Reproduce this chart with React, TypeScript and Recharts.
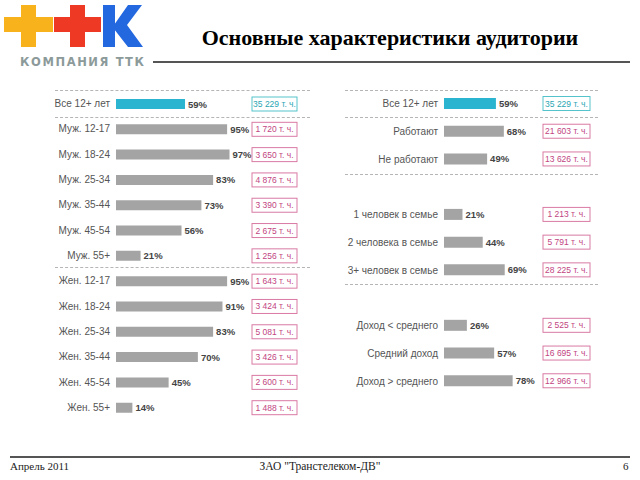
import { BarChart, Bar, XAxis, YAxis, Cell, LabelList } from 'recharts'

const leftNames = ['Все 12+ лет', 'Муж. 12-17', 'Муж. 18-24', 'Муж. 25-34', 'Муж. 35-44', 'Муж. 45-54', 'Муж. 55+',
  'Жен. 12-17', 'Жен. 18-24', 'Жен. 25-34', 'Жен. 35-44', 'Жен. 45-54', 'Жен. 55+']
const leftPct = [59, 95, 97, 83, 73, 56, 21, 95, 91, 83, 70, 45, 14]
const leftAudience = ['35 229 т. ч.', '1 720 т. ч.', '3 650 т. ч.', '4 876 т. ч.', '3 390 т. ч.', '2 675 т. ч.', '1 256 т. ч.',
  '1 643 т. ч.', '3 424 т. ч.', '5 081 т. ч.', '3 426 т. ч.', '2 600 т. ч.', '1 488 т. ч.']

// empty strings are spacer rows between groups
const rightNames = ['Все 12+ лет', 'Работают', 'Не работают', '', '1 человек в семье', '2 человека в семье', '3+ человек в семье',
  '', 'Доход < среднего', 'Средний доход', 'Доход > среднего']
const rightPct = [59, 68, 49, null, 21, 44, 69, null, 26, 57, 78]
const rightAudience = ['35 229 т. ч.', '21 603 т. ч.', '13 626 т. ч.', '', '1 213 т. ч.', '5 791 т. ч.', '28 225 т. ч.',
  '', '2 525 т. ч.', '16 695 т. ч.', '12 966 т. ч.']

const SANS = '"Liberation Sans", Arial, sans-serif'
const SERIF = '"Liberation Serif", "Times New Roman", serif'
const CYAN = '#2ab4cf'
const GREY = '#a4a4a4'

const build = (names: string[], pct: (number | null)[], aud: string[]) =>
  names.map((n, i) => ({ key: String(i), name: n, pct: pct[i], aud: aud[i] }))

const leftData = build(leftNames, leftPct, leftAudience)
const rightData = build(rightNames, rightPct, rightAudience)

function pctLabel(props: any) {
  const { x, y, width, height, value } = props
  if (value == null) return null
  return (
    <text x={x + width + 3} y={y + height / 2 + 3.5} fontSize={9.5} fontWeight="bold" fill="#444" fontFamily={SANS}>
      {value}%
    </text>
  )
}

function boxLabel(offset: number, w: number) {
  return (props: any) => {
    const { x, y, height, value, index } = props
    if (!value) return null
    const first = index === 0
    const cy = y + height / 2
    return (
      <g>
        <rect x={x + offset} y={cy - 7} width={w} height={14} fill="#fff"
          stroke={first ? '#55c3cc' : '#d97aa4'} strokeWidth={1} />
        <text x={x + offset + w / 2} y={cy + 3} textAnchor="middle" fontSize={8.5} fill={first ? '#2aa6b3' : '#c2457f'}
          fontFamily={SANS}>{value}</text>
      </g>
    )
  }
}

function nameTick(names: string[]) {
  return (props: any) => {
    const { x, y, payload } = props
    return (
      <text x={x} y={y + 3.5} textAnchor="end" fontSize={10} fill="#555" fontFamily={SANS}>
        {names[Number(payload.value)]}
      </text>
    )
  }
}

function Dash({ x1, x2, y }: { x1: number; x2: number; y: number }) {
  return <div style={{ position: 'absolute', left: x1, top: y, width: x2 - x1, borderTop: '1px dashed #b5b5b5' }} />
}

function Panel({ data, names, left, width, axisW, rightM, top, bottom, barSize, boxOff, boxW }: any) {
  return (
    <div style={{ position: 'absolute', left, top: 0 }}>
      <BarChart width={width} height={480} data={data} layout="vertical"
        margin={{ top, right: rightM, bottom, left: 0 }} barCategoryGap={0}>
        <XAxis type="number" domain={[0, 100]} hide />
        <YAxis type="category" dataKey="key" width={axisW} axisLine={false} tickLine={false} tickSize={0} tickMargin={6}
          interval={0} tick={nameTick(names)} />
        <Bar dataKey="pct" barSize={barSize} isAnimationActive={false}>
          {data.map((_: any, i: number) => <Cell key={i} fill={i === 0 ? CYAN : GREY} />)}
          <LabelList dataKey="pct" content={pctLabel} />
          <LabelList dataKey="aud" content={boxLabel(boxOff, boxW)} />
        </Bar>
      </BarChart>
    </div>
  )
}

export default function App() {
  return (
    <div style={{ position: 'absolute', left: 0, top: 0, width: 640, height: 480, background: '#fff', overflow: 'hidden' }}>
      {/* logo */}
      <svg style={{ position: 'absolute', left: 0, top: 0 }} width={150} height={72}>
        <rect x={4} y={17} width={49} height={15} fill="#f7b21c" />
        <rect x={21} y={5} width={15} height={42} fill="#f7b21c" />
        <rect x={54} y={17} width={47} height={15} fill="#ee3a24" />
        <rect x={70} y={5} width={15} height={42} fill="#ee3a24" />
        <rect x={103} y={5} width={12} height={42} fill="#2468e0" />
        <polygon points="114,25 128,5 142,5 127,25 143,47 128,47 114,29" fill="#2468e0" />
        <text x={20} y={66} fontFamily='"DejaVu Sans", sans-serif' fontWeight="bold" fontSize={11.5} letterSpacing={1.6}
          fill="#8c9a9a">КОМПАНИЯ ТТК</text>
      </svg>

      {/* title */}
      <div style={{ position: 'absolute', left: 150, width: 480, top: 25, textAlign: 'center', fontFamily: SERIF,
        fontWeight: 'bold', fontSize: 22, color: '#000' }}>Основные характеристики аудитории</div>
      <div style={{ position: 'absolute', left: 153, top: 61, width: 477, height: 2, background: '#555' }} />

      <Panel data={leftData} names={leftNames} left={0} width={320} axisW={116} rightM={87} top={91} bottom={60}
        barSize={10} boxOff={136} boxW={45} />
      <Panel data={rightData} names={rightNames} left={330} width={270} axisW={114} rightM={68} top={90} bottom={85}
        barSize={11} boxOff={99} boxW={47} />

      <Dash x1={55} x2={310} y={90} />
      <Dash x1={55} x2={310} y={117} />
      <Dash x1={55} x2={310} y={267} />
      <Dash x1={345} x2={598} y={90} />
      <Dash x1={345} x2={598} y={117} />
      <Dash x1={345} x2={598} y={174} />
      <Dash x1={345} x2={598} y={284} />

      {/* footer */}
      <div style={{ position: 'absolute', left: 10, top: 456, width: 620, height: 2, background: '#555' }} />
      <div style={{ position: 'absolute', left: 10, top: 460, fontFamily: SERIF, fontSize: 11, color: '#222' }}>Апрель 2011</div>
      <div style={{ position: 'absolute', left: 0, width: 640, top: 460, textAlign: 'center', fontFamily: SERIF, fontSize: 11.5,
        color: '#222' }}>ЗАО "Транстелеком-ДВ"</div>
      <div style={{ position: 'absolute', left: 623, top: 460, fontFamily: SERIF, fontSize: 11, color: '#222' }}>6</div>
    </div>
  )
}
